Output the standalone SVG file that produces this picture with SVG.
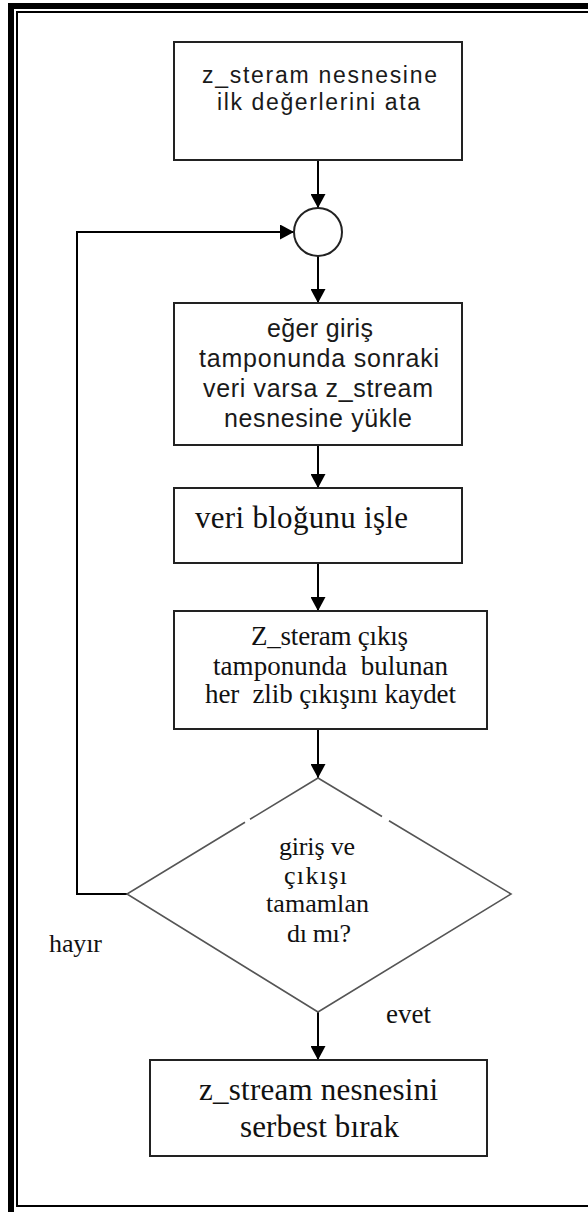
<svg xmlns="http://www.w3.org/2000/svg" width="588" height="1212" viewBox="0 0 588 1212">
  <style>
    .box { fill: #fff; stroke: #222; stroke-width: 2; }
    .dia { fill: none; stroke: #555; stroke-width: 1.6; }
    .wire { fill: none; stroke: #000; stroke-width: 2; }
    .sans { font-family: "Liberation Sans", Arial, sans-serif; font-size: 25px; fill: #1a1a1a; }
    .serif { font-family: "Liberation Serif", "Times New Roman", serif; font-size: 27px; fill: #111; white-space: pre; }
  </style>
  <defs>
    <marker id="head" markerUnits="userSpaceOnUse" markerWidth="15" markerHeight="15" refX="14" refY="7.5" orient="auto">
      <path d="M0,0 L14,7.5 L0,15 Z" fill="#000"/>
    </marker>
  </defs>

  <rect width="588" height="1212" fill="#fff"/>

  <!-- double page border -->
  <g id="frame" fill="none" stroke="#000">
    <rect x="11" y="6" width="620" height="1212" stroke-width="6"/>
    <rect x="17" y="12" width="620" height="1194" stroke-width="2"/>
  </g>

  <!-- connectors -->
  <g id="connectors">
    <line class="wire" x1="318" y1="160" x2="318" y2="208" marker-end="url(#head)"/>
    <line class="wire" x1="318" y1="256" x2="318" y2="303" marker-end="url(#head)"/>
    <line class="wire" x1="318" y1="445" x2="318" y2="488" marker-end="url(#head)"/>
    <line class="wire" x1="318" y1="563" x2="318" y2="611" marker-end="url(#head)"/>
    <line class="wire" x1="318" y1="729" x2="318" y2="778" marker-end="url(#head)"/>
    <line class="wire" x1="318" y1="1012" x2="318" y2="1060" marker-end="url(#head)"/>
    <polyline class="wire" points="127,894 77,894 77,232 294,232" marker-end="url(#head)"/>
  </g>

  <g id="init">
    <rect class="box" x="174" y="42" width="288" height="118"/>
    <text class="sans" x="202" y="83" textLength="235" lengthAdjust="spacing" style="font-size:23px">z_steram nesnesine</text>
    <text class="sans" x="217" y="110" textLength="203" lengthAdjust="spacing" style="font-size:23px">ilk değerlerini ata</text>
  </g>

  <g id="join">
    <circle cx="318" cy="232" r="24" fill="#fff" stroke="#222" stroke-width="2"/>
  </g>

  <g id="load">
    <rect class="box" x="174" y="303" width="288" height="142"/>
    <text class="sans" x="267" y="337" textLength="106" lengthAdjust="spacing">eğer giriş</text>
    <text class="sans" x="199" y="367" textLength="240" lengthAdjust="spacing">tamponunda sonraki</text>
    <text class="sans" x="203" y="397" textLength="230" lengthAdjust="spacing">veri varsa z_stream</text>
    <text class="sans" x="224" y="427" textLength="188" lengthAdjust="spacing">nesnesine yükle</text>
  </g>

  <g id="process">
    <rect class="box" x="174" y="488" width="288" height="75"/>
    <text class="serif" x="195" y="528" textLength="213" lengthAdjust="spacing" style="font-size:31px">veri bloğunu işle</text>
  </g>

  <g id="save">
    <rect class="box" x="174" y="611" width="313" height="118"/>
    <text class="serif" x="251" y="645" textLength="157" lengthAdjust="spacing">Z_steram çıkış</text>
    <text class="serif" x="213" y="675" textLength="235" lengthAdjust="spacing">tamponunda  bulunan</text>
    <text class="serif" x="205" y="703" textLength="251" lengthAdjust="spacing">her  zlib çıkışını kaydet</text>
  </g>

  <g id="decision">
    <path class="dia" d="M250,819.3 L318,778 L382,816.5 M389,820.7 L511,894 L318,1012 L127,894 L245,822.3"/>
    <text class="serif" x="279" y="855" textLength="76" lengthAdjust="spacing" style="font-size:26px">giriş ve</text>
    <text class="serif" x="284" y="884" textLength="63" lengthAdjust="spacing" style="font-size:26px">çıkışı</text>
    <text class="serif" x="266" y="912" textLength="103" lengthAdjust="spacing" style="font-size:26px">tamamlan</text>
    <text class="serif" x="287" y="942" textLength="64" lengthAdjust="spacing" style="font-size:26px">dı mı?</text>
  </g>

  <g id="labels">
    <text class="serif" x="49" y="952" textLength="53" lengthAdjust="spacing" style="font-size:26px">hayır</text>
    <text class="serif" x="386" y="1023" textLength="45" lengthAdjust="spacing">evet</text>
  </g>

  <g id="release">
    <rect class="box" x="150" y="1060" width="337" height="96"/>
    <text class="serif" x="199" y="1100" textLength="239" lengthAdjust="spacing" style="font-size:31px">z_stream nesnesini</text>
    <text class="serif" x="240" y="1137" textLength="159" lengthAdjust="spacing" style="font-size:31px">serbest bırak</text>
  </g>
</svg>
